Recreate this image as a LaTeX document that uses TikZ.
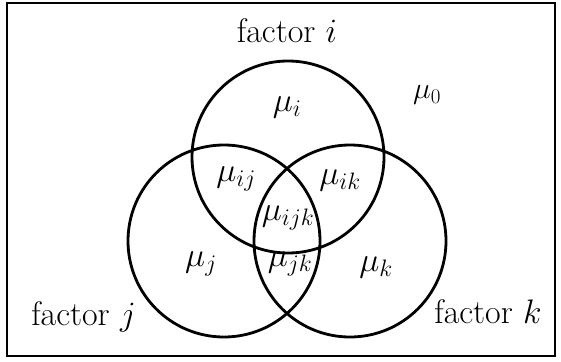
\RequirePackage{fix-cm}
\documentclass[tikz,border=0pt]{standalone}
\begin{document}
\begin{tikzpicture}[x=1pt,y=-1pt,
  setcirc/.style={circle,draw,line width=2.8pt,minimum size=192pt,inner sep=0pt},
  lab/.style={font=\fontsize{34}{40}\selectfont,inner sep=0pt},
  smalllab/.style={font=\fontsize{30}{36}\selectfont,inner sep=0pt}]
\useasboundingbox (0,0) rectangle (561,361);
\node[draw,line width=2.2pt,minimum width=548pt,minimum height=353pt,inner sep=0pt] (frame) at (281,179.5) {};
\node[setcirc] (ci) at (288,157) {};
\node[setcirc] (cj) at (224,241) {};
\node[setcirc] (ck) at (350,241) {};
\node[lab,anchor=base] (fi) at (287,43) {factor $i$};
\node[lab,anchor=base] (fj) at (83.5,325) {factor $j$};
\node[lab,anchor=base] (fk) at (488,323) {factor $k$};
\node[lab] (mi) at (287,107) {$\mu_i$};
\node[smalllab] (m0) at (427,95) {$\mu_0$};
\node[lab] (mij) at (236,179) {$\mu_{ij}$};
\node[lab] (mik) at (340,180) {$\mu_{ik}$};
\node[lab] (mijk) at (288,218) {$\mu_{ijk}$};
\node[lab] (mj) at (201,264) {$\mu_j$};
\node[lab] (mjk) at (290,264) {$\mu_{jk}$};
\node[lab] (mk) at (376,267) {$\mu_k$};
\end{tikzpicture}
\end{document}
